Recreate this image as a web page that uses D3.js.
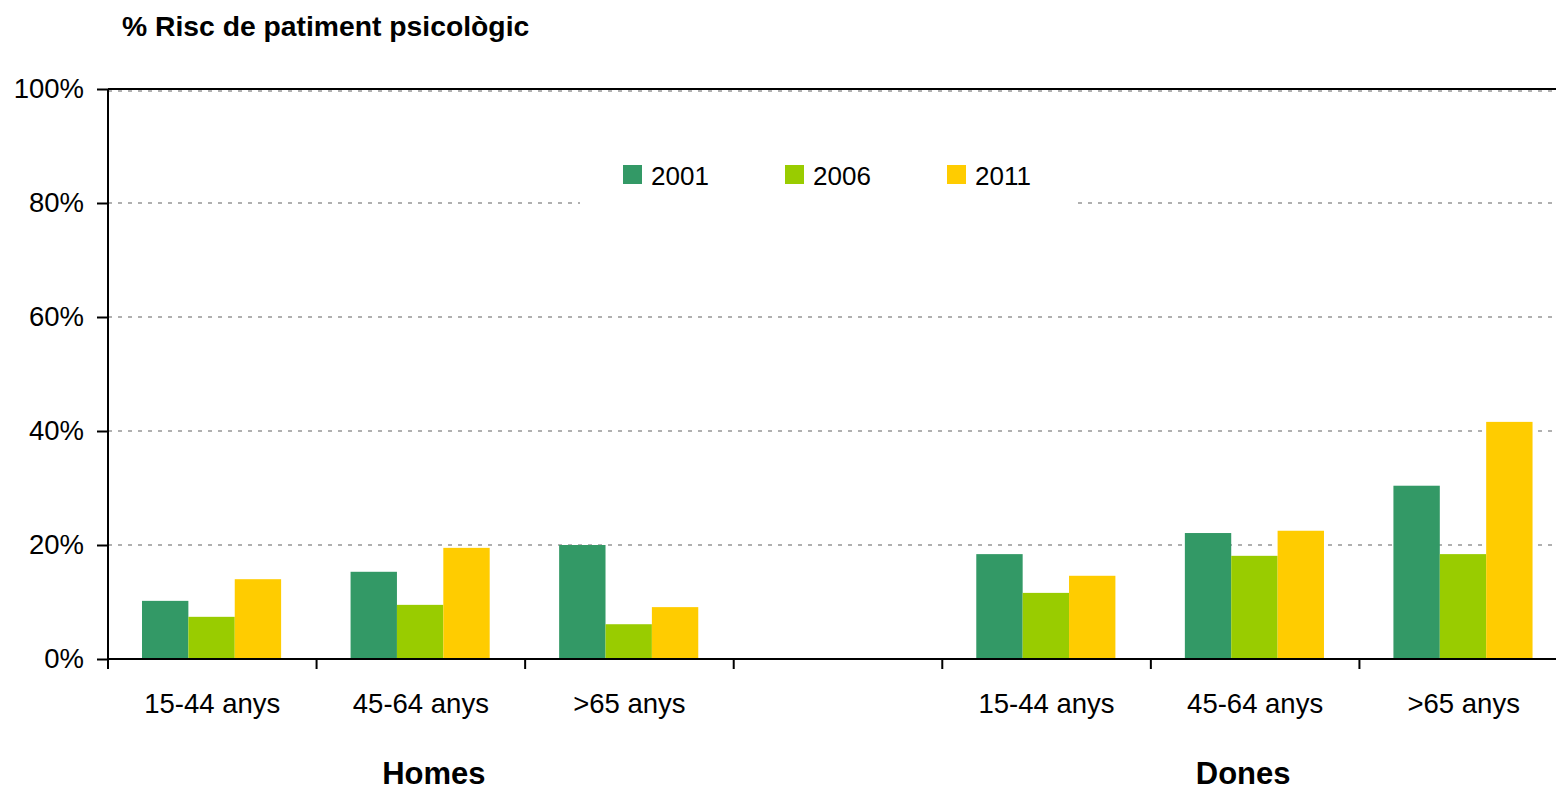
<!DOCTYPE html>
<html lang="ca">
<head>
  <meta charset="UTF-8">
  <title>% Risc de patiment psicològic</title>
  <script src="https://d3js.org/d3.v7.min.js"></script>
  <style>
    body { margin: 0; background: #fff; font-family: 'Liberation Sans', Arial, sans-serif; }
    svg { display: block; }
  </style>
</head>
<body>
  <svg width="1556" height="790"></svg>
  <script>
    // data
    const categories = ["15-44 anys", "45-64 anys", ">65 anys", "", "15-44 anys", "45-64 anys", ">65 anys"];
    const groups = ["Homes", "Dones"];
    const years = ["2001", "2006", "2011"];
    const v2001 = [10.2, 15.3, 20.0, null, 18.4, 22.1, 30.4];
    const v2006 = [7.4, 9.5, 6.1, null, 11.6, 18.1, 18.4];
    const v2011 = [14.0, 19.5, 9.1, null, 14.6, 22.5, 41.6];
    const yTicks = [0, 20, 40, 60, 80, 100];

    const colors = { "2001": "#339966", "2006": "#99cc00", "2011": "#ffcc00" };
    const series = { "2001": v2001, "2006": v2006, "2011": v2011 };

    const svg = d3.select("svg");
    const plotLeft = 108, plotRight = 1568, plotTop = 89, plotBottom = 659;

    const keys = categories.map((d, i) => i);
    const x = d3.scaleBand().domain(keys).range([plotLeft, plotRight]).padding(0);
    const slot = x.bandwidth();
    const xi = d3.scaleBand().domain(years).range([slot * 0.163, slot * 0.83]).padding(0);
    const y = d3.scaleLinear().domain([0, 100]).range([plotBottom, plotTop]);

    // gridlines
    svg.append("g")
      .selectAll("line")
      .data(yTicks.filter(d => d > 0))
      .join("line")
        .attr("x1", plotLeft).attr("x2", plotRight)
        .attr("y1", d => y(d) + (d === 100 ? 2 : 0))
        .attr("y2", d => y(d) + (d === 100 ? 2 : 0))
        .attr("stroke", "#969696")
        .attr("stroke-width", 1.5)
        .attr("stroke-dasharray", "4,6");

    // legend background (covers the gridline)
    const legend = svg.append("g");
    legend.append("rect")
      .attr("x", 580).attr("y", 140).attr("width", 492).attr("height", 75)
      .attr("fill", "#fff");

    // bars
    const bars = [];
    keys.forEach(k => years.forEach(yr => {
      if (series[yr][k] != null) bars.push({ k, yr, v: series[yr][k] });
    }));
    svg.append("g")
      .selectAll("rect")
      .data(bars)
      .join("rect")
        .attr("x", d => x(d.k) + xi(d.yr))
        .attr("width", xi.bandwidth())
        .attr("y", d => y(d.v))
        .attr("height", d => y(0) - y(d.v))
        .attr("fill", d => colors[d.yr]);

    // y axis
    const yAxis = svg.append("g")
      .attr("transform", `translate(${plotLeft},0)`)
      .call(d3.axisLeft(y).tickValues(yTicks).tickFormat(d => d + "%").tickSize(11).tickPadding(13));
    yAxis.select(".domain").attr("d", `M0,${plotTop}V${plotBottom + 10}`).attr("stroke-width", 2);
    yAxis.selectAll(".tick line").attr("stroke-width", 2);
    yAxis.selectAll(".tick text")
      .attr("font-family", "'Liberation Sans', Arial, sans-serif")
      .attr("font-size", 27.5)
      .attr("fill", "#000");

    // top border
    svg.append("line")
      .attr("x1", plotLeft).attr("x2", plotRight)
      .attr("y1", plotTop).attr("y2", plotTop)
      .attr("stroke", "#000").attr("stroke-width", 2);

    // x axis
    svg.append("line")
      .attr("x1", plotLeft).attr("x2", plotRight)
      .attr("y1", plotBottom).attr("y2", plotBottom)
      .attr("stroke", "#000").attr("stroke-width", 2);
    svg.append("g")
      .selectAll("line")
      .data(keys)
      .join("line")
        .attr("x1", d => x(d)).attr("x2", d => x(d))
        .attr("y1", plotBottom).attr("y2", plotBottom + 10)
        .attr("stroke", "#000").attr("stroke-width", 2);

    svg.append("g")
      .selectAll("text")
      .data(keys)
      .join("text")
        .attr("x", d => x(d) + slot / 2)
        .attr("y", 713)
        .attr("text-anchor", "middle")
        .attr("font-size", 27.5)
        .text(d => categories[d]);

    // group labels
    const groupCenters = [x(1) + slot / 2 + 13, x(5) + slot / 2 - 12];
    svg.append("g")
      .selectAll("text")
      .data(groups)
      .join("text")
        .attr("x", (d, i) => groupCenters[i])
        .attr("y", 784)
        .attr("text-anchor", "middle")
        .attr("font-size", 31)
        .attr("font-weight", "bold")
        .text(d => d);

    // legend items
    const li = legend.selectAll("g.item")
      .data(years)
      .join("g")
        .attr("class", "item")
        .attr("transform", (d, i) => `translate(${623 + i * 162},165)`);
    li.append("rect").attr("width", 19).attr("height", 19).attr("fill", d => colors[d]);
    li.append("text").attr("x", 28).attr("y", 20).attr("font-size", 26).text(d => d);

    // title
    svg.append("text")
      .attr("x", 122).attr("y", 36)
      .attr("font-size", 28.3)
      .attr("font-weight", "bold")
      .text("% Risc de patiment psicològic");
  </script>
</body>
</html>
